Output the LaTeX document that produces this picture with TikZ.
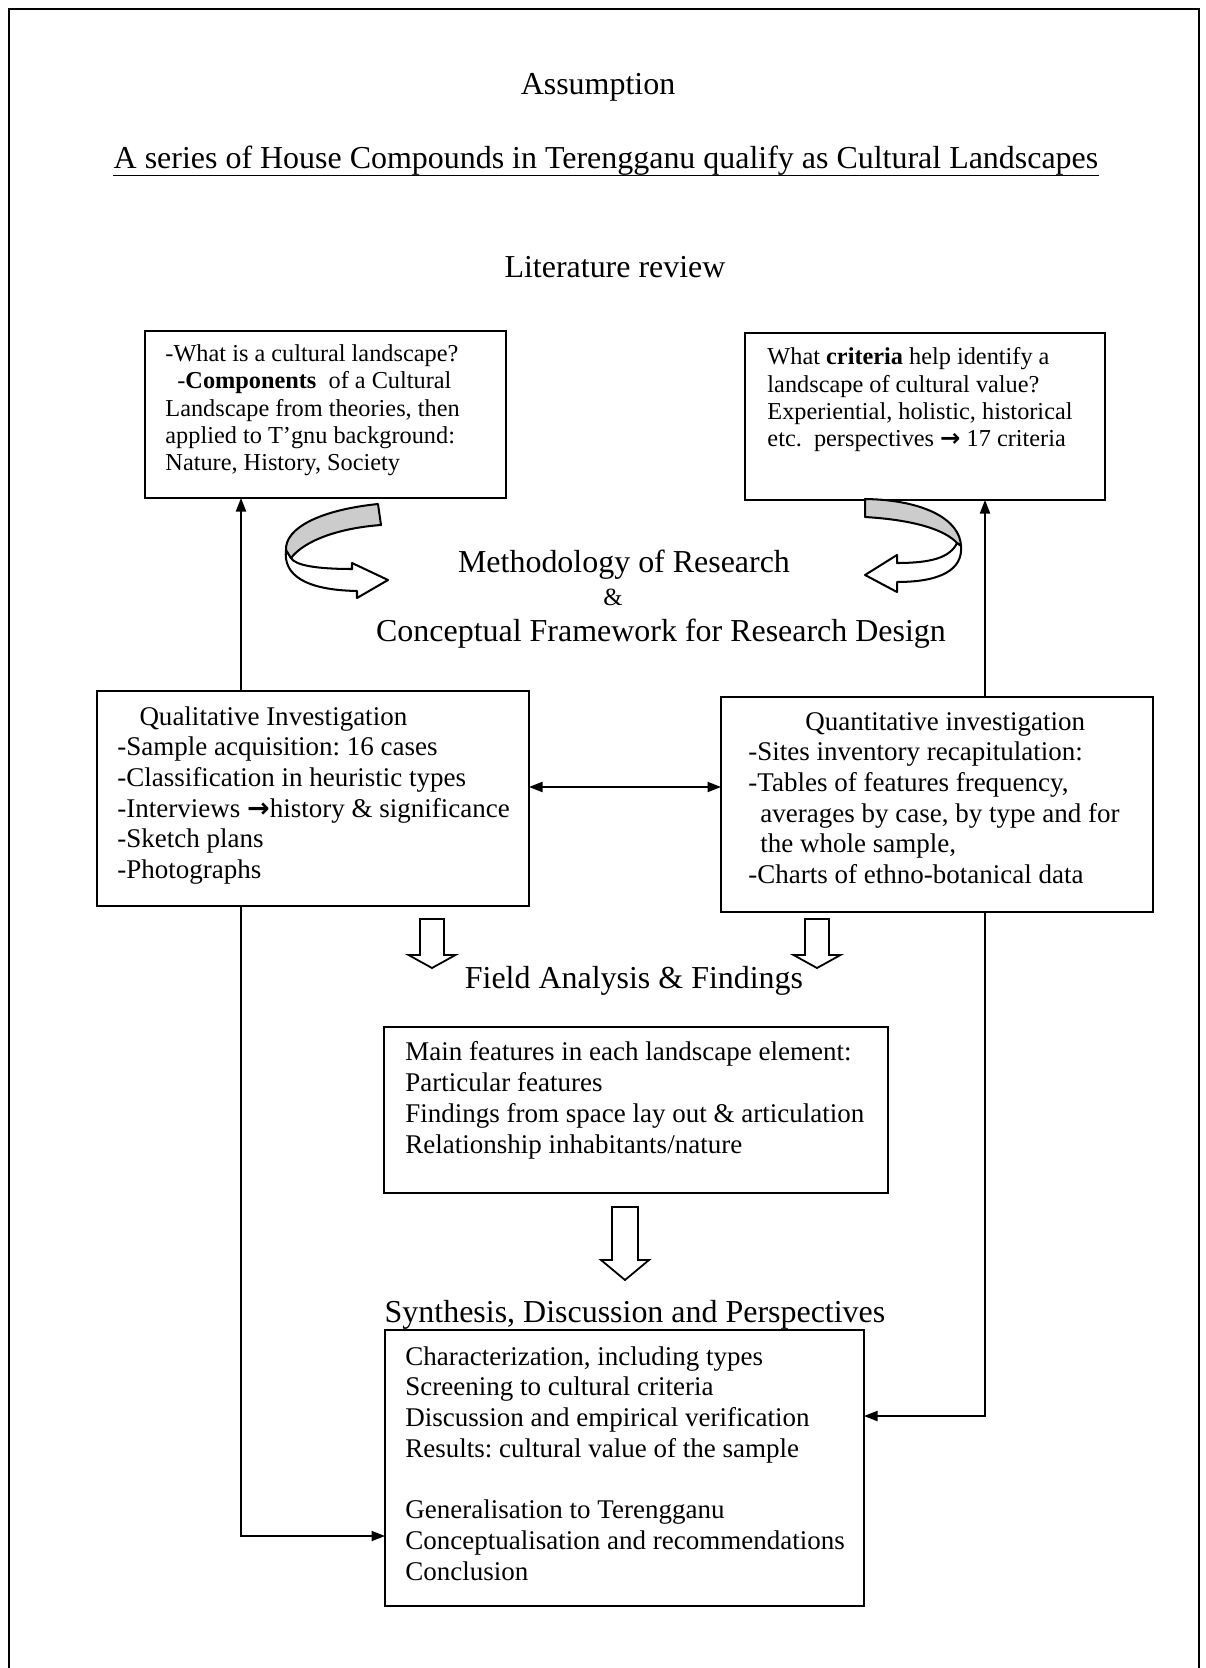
\documentclass[tikz,border=0pt]{standalone}
\usepackage{fontspec}
\setmainfont{Liberation Serif}
\newfontfamily\symfont{DejaVu Sans}
\usetikzlibrary{arrows.meta}
\newcommand{\rar}{{\symfont\bfseries\char"2192}}
\newcommand{\pxu}{0.4444pt}
\begin{document}
\frenchspacing
\begin{tikzpicture}[x=0.4444pt,y=-0.4444pt,
  box/.style={draw, line width=0.8pt, inner sep=0pt, outer sep=0pt, anchor=north west},
  txt/.style={inner sep=0pt, anchor=base west, align=left, font=\fontsize{12}{13.64}\selectfont},
  smalltxt/.style={inner sep=0pt, anchor=base west, align=left, font=\fontsize{10.8}{12.2}\selectfont},
  head/.style={inner sep=0pt, anchor=base, font=\fontsize{14.2}{16}\selectfont},
  conn/.style={line width=0.7pt, -{Triangle[length=6pt,width=4.5pt]}},
  hollow/.style={draw, line width=0.8pt, fill=white, line join=miter},
  ribbon/.style={draw, line width=0.9pt, line join=round},
]
\useasboundingbox (0,0) rectangle (1205,1668);
\draw[line width=0.9pt] (9,1668) -- (9,9) -- (1199,9) -- (1199,1668);

% headings
\node[head] (assump) at (598,95) {Assumption};
\node[head] (title) at (606,169) {A series of House Compounds in Terengganu qualify as Cultural Landscapes};
\draw[line width=0.6pt] ([yshift=-3pt]title.base west) -- ([yshift=-3pt]title.base east);
\node[head] (litrev) at (615,278) {Literature review};
\node[head] (meth) at (624,573) {Methodology of Research};
\node[inner sep=0pt, anchor=base, font=\fontsize{11}{12}\selectfont] (amp) at (613,605) {\&};
\node[head] (concept) at (661,641) {Conceptual Framework for Research Design};
\node[head] (field) at (634,988) {Field Analysis \& Findings};
\node[head] (synth) at (635,1322) {Synthesis, Discussion and Perspectives};

% boxes
\node[box, minimum width=361*\pxu, minimum height=167*\pxu] (L1) at (145,331) {};
\node[box, minimum width=360*\pxu, minimum height=167*\pxu] (R1) at (745,333) {};
\node[box, minimum width=432*\pxu, minimum height=215*\pxu] (QL) at (97,691) {};
\node[box, minimum width=432*\pxu, minimum height=215*\pxu] (QN) at (721,697) {};
\node[box, minimum width=504*\pxu, minimum height=166*\pxu] (F) at (384,1027) {};
\node[box, minimum width=479*\pxu, minimum height=276*\pxu] (S) at (385,1330) {};

% box texts (anchor = baseline of the last line)
\node[smalltxt] (L1t) at (165,471) {-What is a cultural landscape?\\
\hspace*{5.3pt}-\textbf{Components}\ \ of a Cultural\\
Landscape from theories, then\\
applied to T’gnu background:\\
Nature, History, Society};
\node[smalltxt] (R1t) at (767,447) {What \textbf{criteria} help identify a\\
landscape of cultural value?\\
Experiential, holistic, historical\\
etc.\ \ perspectives \rar{} 17 criteria};
\node[txt] (QLt) at (117,878.5) {\hspace*{9.8pt}Qualitative Investigation\\
-Sample acquisition: 16 cases\\
-Classification in heuristic types\\
-Interviews \rar{}history \& significance\\
-Sketch plans\\
-Photographs};
\node[txt] (QNt) at (748,883.5) {\hspace*{25.3pt}Quantitative investigation\\
-Sites inventory recapitulation:\\
-Tables of features frequency,\\
\hspace*{5.3pt}averages by case, by type and for\\
\hspace*{5.3pt}the whole sample,\\
-Charts of ethno-botanical data};
\node[txt] (Ft) at (405,1153) {Main features in each landscape element:\\
Particular features\\
Findings from space lay out \& articulation\\
Relationship inhabitants/nature};
\node[txt] (St) at (405,1580) {Characterization, including types\\
Screening to cultural criteria\\
Discussion and empirical verification\\
Results: cultural value of the sample\\[13.64pt]
Generalisation to Terengganu\\
Conceptualisation and recommendations\\
Conclusion};

% connectors
\coordinate (xL) at (241,0);
\coordinate (xR) at (985,0);
\coordinate (yM) at (0,787);
\coordinate (yLb) at (0,1536);
\coordinate (yRb) at (0,1416);
\draw[conn] (QL.north -| xL) -- (L1.south -| xL);
\draw[conn] (QN.north -| xR) -- (R1.south -| xR);
\draw[line width=0.7pt, {Triangle[length=6pt,width=4.5pt]}-{Triangle[length=6pt,width=4.5pt]}] (QL.east |- yM) -- (QN.west |- yM);
\draw[conn] (QL.south -| xL) -- (xL |- yLb) -- (S.west |- yLb);
\draw[conn] (QN.south -| xR) -- (xR |- yRb) -- (S.east |- yRb);

% hollow block arrows
\draw[hollow] (420,919) -- (444,919) -- (444,955) -- (455.5,955) -- (432,968) -- (408.5,955) -- (420,955) -- cycle;
\draw[hollow] (805,919) -- (829,919) -- (829,955) -- (840.5,955) -- (817,968) -- (793.5,955) -- (805,955) -- cycle;
\draw[hollow] (612,1207) -- (638,1207) -- (638,1260) -- (649,1260) -- (625,1280) -- (601,1260) -- (612,1260) -- cycle;

% curved ribbon arrows
\draw[ribbon, fill=white] (286,550) .. controls (283,575) and (305,590) .. (357,591) -- (357,598) -- (388,580) -- (352,563) -- (352,569) .. controls (315,569) and (295,565) .. (291,558) -- cycle;
\draw[ribbon, fill=black!20] (378,504) .. controls (320,510) and (285,528) .. (286,550) -- (291,558) .. controls (305,540) and (340,528) .. (381,525) -- cycle;
\draw[ribbon, fill=black!20] (865,499) .. controls (925,500) and (960,520) .. (961,546) -- (957,543) .. controls (945,530) and (915,520) .. (865,517) -- cycle;
\draw[ribbon, fill=white] (957,543) .. controls (950,558) and (930,563) .. (897,563) -- (897,555) -- (865,575) -- (897,592) -- (897,582) .. controls (940,582) and (963,570) .. (961,546) -- cycle;
\end{tikzpicture}
\end{document}
